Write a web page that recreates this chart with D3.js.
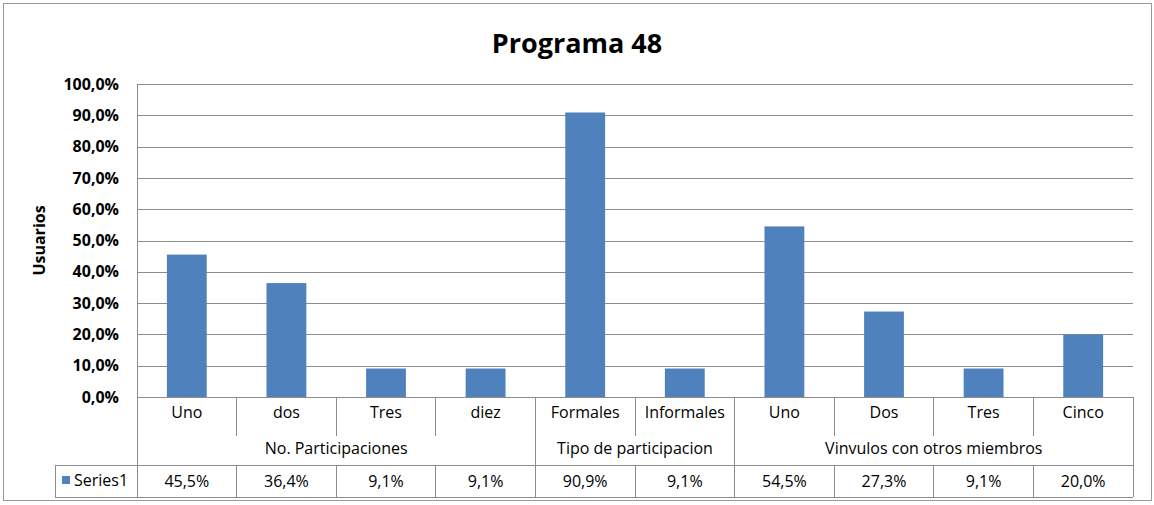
<!DOCTYPE html>
<html>
<head>
<meta charset="utf-8">
<script src="https://cdnjs.cloudflare.com/ajax/libs/d3/7.8.5/d3.min.js"></script>
<style>
	body { margin: 0; background: #fff; }
	text { font-family: "Open Sans", sans-serif; fill: #000; }
</style>
</head>
<body>
<div id="chart"></div>
<script>
var title = 'Programa 48';
var yAxisLabel = 'Usuarios';
var seriesName = 'Series1';

var categories = ['Uno', 'dos', 'Tres', 'diez', 'Formales', 'Informales', 'Uno', 'Dos', 'Tres', 'Cinco'];
var groups = ['No. Participaciones', 'No. Participaciones', 'No. Participaciones', 'No. Participaciones',
	'Tipo de participacion', 'Tipo de participacion',
	'Vinvulos con otros miembros', 'Vinvulos con otros miembros', 'Vinvulos con otros miembros', 'Vinvulos con otros miembros'];
var values = [45.5, 36.4, 9.1, 9.1, 90.9, 9.1, 54.5, 27.3, 9.1, 20.0];
var yTicks = [0, 10, 20, 30, 40, 50, 60, 70, 80, 90, 100];

var width = 1154;
var height = 505;
var plot = { left: 137, right: 1133, top: 84, bottom: 397 };
var rows = { cat: 436, group: 465, table: 497 };
var tableLeft = 55;
var barColor = '#4F81BD';
var lineColor = '#8c8c8c';

var fmt = function(v) { return d3.format('.1f')(v).replace('.', ',') + '%'; };

var svg = d3.select('#chart').append('svg')
	.attr('width', width)
	.attr('height', height);

// outer border
svg.append('rect')
	.attr('x', 3.5).attr('y', 3.5)
	.attr('width', 1148).attr('height', 497)
	.attr('fill', '#fff')
	.attr('stroke', '#9a9a9a');

svg.append('text')
	.attr('x', 577).attr('y', 53)
	.attr('text-anchor', 'middle')
	.style('font-size', '27px')
	.style('font-weight', 'bold')
	.text(title);

var x = d3.scaleBand()
	.domain(d3.range(categories.length))
	.range([plot.left, plot.right])
	.paddingInner(0.6)
	.paddingOuter(0.3);

var y = d3.scaleLinear()
	.domain([0, 100])
	.range([plot.bottom, plot.top]);

var step = x.step();
var colX = function(i) { return plot.left + i * step; };

// gridlines + y labels
var yAxis = d3.axisLeft(y)
	.tickValues(yTicks)
	.tickSize(-(plot.right - plot.left))
	.tickPadding(18)
	.tickFormat(fmt);

var gy = svg.append('g')
	.attr('transform', 'translate(' + plot.left + ',0)')
	.call(yAxis);
gy.select('.domain').remove();
gy.selectAll('line').attr('stroke', lineColor).attr('shape-rendering', 'crispEdges');
gy.selectAll('text')
	.style('font-size', '16px')
	.style('font-weight', 'bold')
	.style('font-family', '"Open Sans", sans-serif');

svg.append('text')
	.attr('transform', 'translate(45,' + ((plot.top + plot.bottom) / 2) + ') rotate(-90)')
	.attr('text-anchor', 'middle')
	.style('font-size', '16px')
	.style('font-weight', 'bold')
	.text(yAxisLabel);

// bars
svg.append('g').selectAll('rect')
	.data(values)
	.enter().append('rect')
	.attr('x', function(d, i) { return x(i); })
	.attr('y', function(d) { return y(d); })
	.attr('width', x.bandwidth())
	.attr('height', function(d) { return y(0) - y(d); })
	.attr('fill', barColor);

// table lines
var lines = svg.append('g')
	.attr('stroke', lineColor)
	.attr('shape-rendering', 'crispEdges');

lines.append('line')
	.attr('x1', plot.left).attr('x2', plot.left)
	.attr('y1', plot.top).attr('y2', rows.table);
lines.append('line')
	.attr('x1', plot.left).attr('x2', plot.right)
	.attr('y1', plot.bottom).attr('y2', plot.bottom);
lines.append('line')
	.attr('x1', plot.right).attr('x2', plot.right)
	.attr('y1', plot.bottom).attr('y2', rows.table);
lines.append('line')
	.attr('x1', tableLeft).attr('x2', plot.right)
	.attr('y1', rows.group).attr('y2', rows.group);
lines.append('line')
	.attr('x1', tableLeft).attr('x2', plot.right)
	.attr('y1', rows.table).attr('y2', rows.table);
lines.append('line')
	.attr('x1', tableLeft).attr('x2', tableLeft)
	.attr('y1', rows.group).attr('y2', rows.table);

// separators between categories
d3.range(1, categories.length).forEach(function(i) {
	var groupEdge = groups[i] !== groups[i - 1];
	lines.append('line')
		.attr('x1', colX(i)).attr('x2', colX(i))
		.attr('y1', plot.bottom)
		.attr('y2', groupEdge ? rows.table : rows.cat);
	if (!groupEdge) {
		lines.append('line')
			.attr('x1', colX(i)).attr('x2', colX(i))
			.attr('y1', rows.group).attr('y2', rows.table);
	}
});

// category labels
svg.append('g').selectAll('text')
	.data(categories)
	.enter().append('text')
	.attr('x', function(d, i) { return x(i) + x.bandwidth() / 2; })
	.attr('y', 418)
	.attr('text-anchor', 'middle')
	.style('font-size', '16px')
	.text(function(d) { return d; });

// group labels
var groupNames = [];
groups.forEach(function(g, i) {
	var last = groupNames[groupNames.length - 1];
	if (!last || last.name !== g) {
		groupNames.push({ name: g, start: i, end: i });
	} else {
		last.end = i;
	}
});

svg.append('g').selectAll('text')
	.data(groupNames)
	.enter().append('text')
	.attr('x', function(d) { return (colX(d.start) + colX(d.end + 1)) / 2; })
	.attr('y', 454)
	.attr('text-anchor', 'middle')
	.style('font-size', '16px')
	.text(function(d) { return d.name; });

// value row
svg.append('g').selectAll('text')
	.data(values)
	.enter().append('text')
	.attr('x', function(d, i) { return x(i) + x.bandwidth() / 2; })
	.attr('y', 487)
	.attr('text-anchor', 'middle')
	.style('font-size', '16px')
	.text(function(d) { return fmt(d); });

// legend key
svg.append('rect')
	.attr('x', 62).attr('y', 476)
	.attr('width', 8).attr('height', 8)
	.attr('fill', barColor);

svg.append('text')
	.attr('x', 74).attr('y', 486)
	.style('font-size', '16px')
	.text(seriesName);
</script>
</body>
</html>
